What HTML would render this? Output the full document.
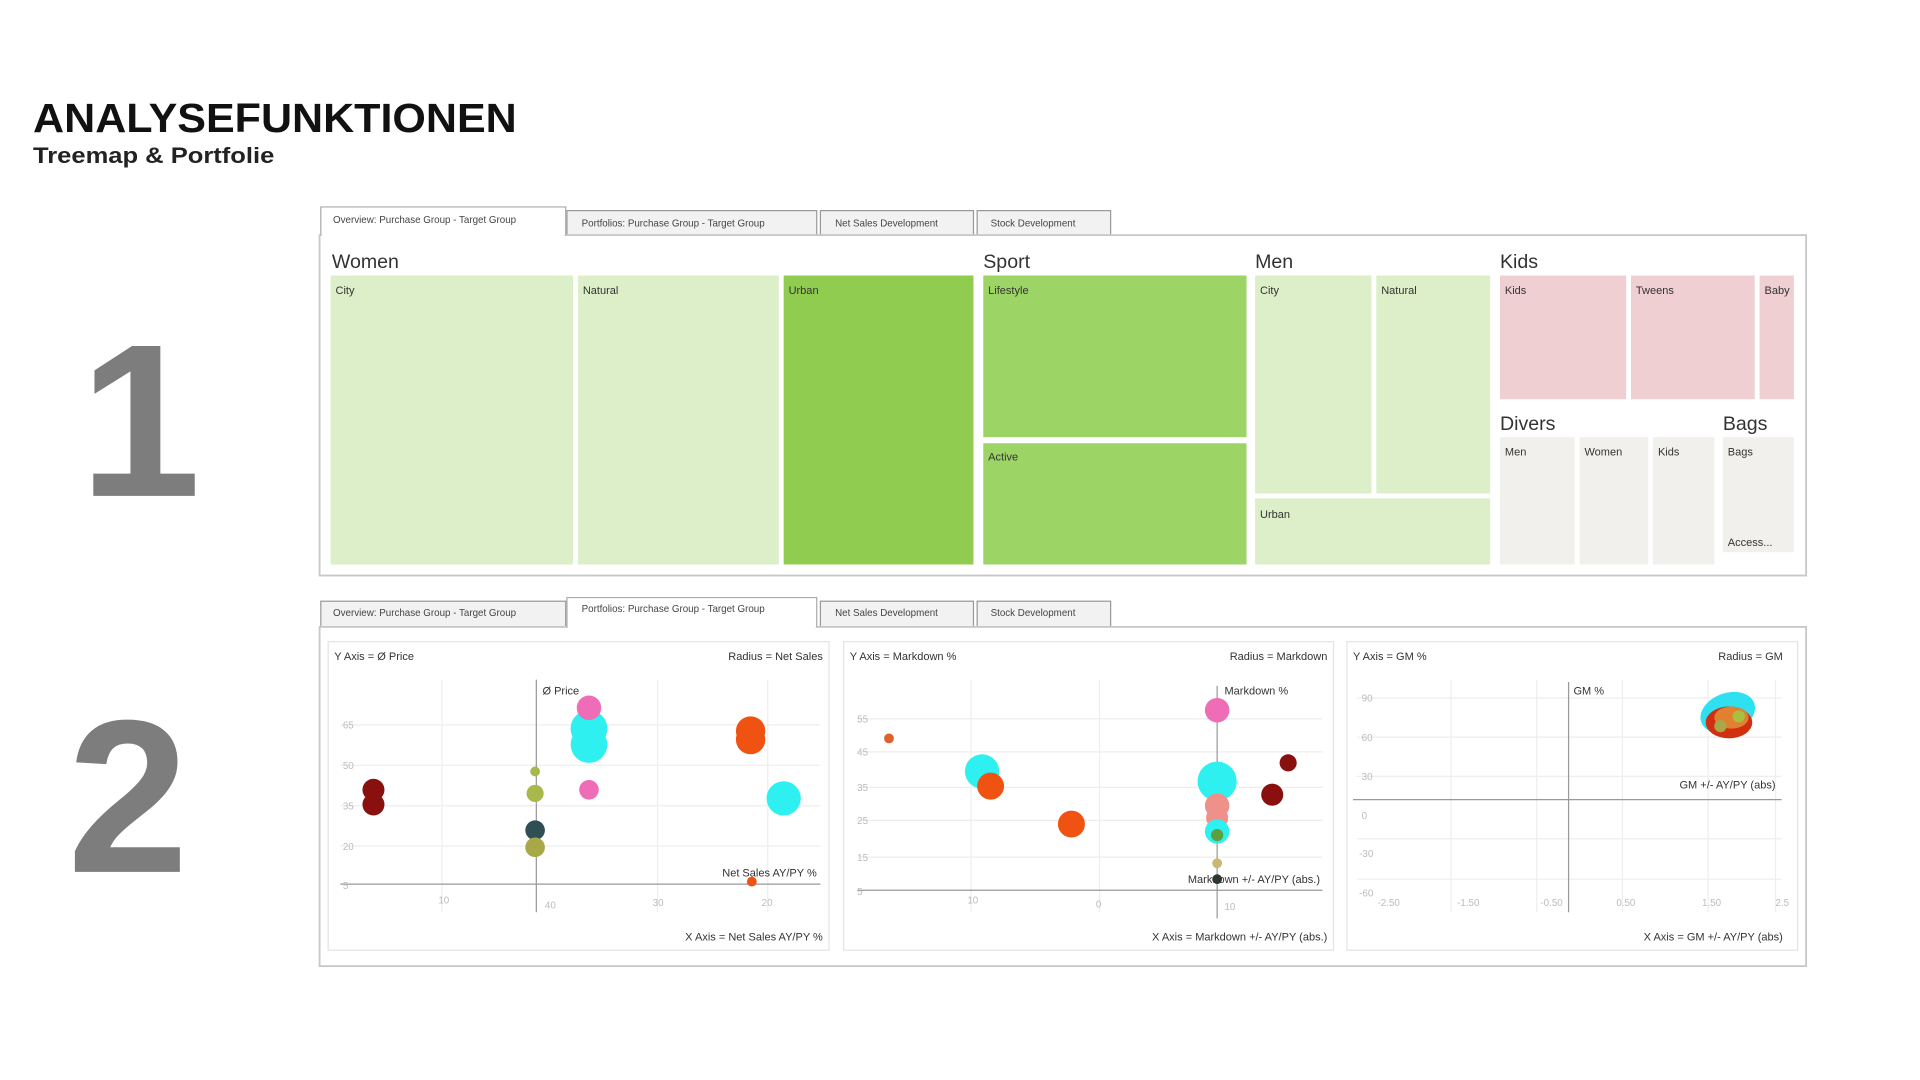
<!DOCTYPE html>
<html><head><meta charset="utf-8"><style>
html,body{margin:0;padding:0;background:#fff;width:1920px;height:1080px;overflow:hidden}
svg{display:block}
text{font-family:"Liberation Sans",sans-serif}
</style></head><body>
<svg width="1920" height="1080" viewBox="0 0 1568 882" xmlns="http://www.w3.org/2000/svg">
<rect width="1568" height="882" fill="#fff"/>
<text x="27" y="108" font-size="33" font-weight="bold" fill="#111" textLength="395" lengthAdjust="spacingAndGlyphs">ANALYSEFUNKTIONEN</text>
<text x="27" y="133" font-size="18" font-weight="bold" fill="#222" textLength="197" lengthAdjust="spacingAndGlyphs">Treemap &amp; Portfolie</text>
<text x="65" y="405" font-size="178" font-weight="bold" fill="#7d7d7d">1</text>
<text x="55" y="712" font-size="178" font-weight="bold" fill="#7d7d7d">2</text>

<!-- Panel 1 -->
<g font-size="8" fill="#444">
<rect x="463" y="172" width="204" height="20" fill="#f2f2f2" stroke="#999"/>
<rect x="670" y="172" width="125" height="20" fill="#f2f2f2" stroke="#999"/>
<rect x="798" y="172" width="109" height="20" fill="#f2f2f2" stroke="#999"/>
<rect x="261" y="192" width="1214" height="278" fill="#fff" stroke="#c8c8c8" stroke-width="1.5"/>
<path d="M262 192 V169 H462 V192" fill="#fff" stroke="#aaa"/>
<rect x="263" y="186" width="198" height="8" fill="#fff"/>
<text x="272" y="182">Overview: Purchase Group - Target Group</text>
<text x="475" y="185">Portfolios: Purchase Group - Target Group</text>
<text x="682" y="185">Net Sales Development</text>
<text x="809" y="185">Stock Development</text>
</g>
<g font-size="16" fill="#333">
<text x="271" y="219">Women</text><text x="803" y="219">Sport</text><text x="1025" y="219">Men</text>
<text x="1225" y="219">Kids</text><text x="1225" y="351">Divers</text><text x="1407" y="351">Bags</text>
</g>
<g>
<rect x="270" y="225" width="198" height="236" fill="#dcefc8"/>
<rect x="472" y="225" width="164" height="236" fill="#dcefc8"/>
<rect x="640" y="225" width="155" height="236" fill="#8fcc50"/>
<rect x="803" y="225" width="215" height="132" fill="#9dd466"/>
<rect x="803" y="362" width="215" height="99" fill="#9dd466"/>
<rect x="1025" y="225" width="95" height="178" fill="#dcefc8"/>
<rect x="1124" y="225" width="93" height="178" fill="#dcefc8"/>
<rect x="1025" y="407" width="192" height="54" fill="#dcefc8"/>
<rect x="1225" y="225" width="103" height="101" fill="#efcfd2"/>
<rect x="1332" y="225" width="101" height="101" fill="#efcfd2"/>
<rect x="1437" y="225" width="28" height="101" fill="#efcfd2"/>
<rect x="1225" y="357" width="61" height="104" fill="#f1f0ec"/>
<rect x="1290" y="357" width="56" height="104" fill="#f1f0ec"/>
<rect x="1350" y="357" width="50" height="104" fill="#f1f0ec"/>
<rect x="1407" y="357" width="58" height="94" fill="#f1f0ec"/>
</g>
<g font-size="9" fill="#333">
<text x="274" y="240">City</text><text x="476" y="240">Natural</text><text x="644" y="240">Urban</text>
<text x="807" y="240">Lifestyle</text><text x="807" y="376">Active</text>
<text x="1029" y="240">City</text><text x="1128" y="240">Natural</text><text x="1029" y="423">Urban</text>
<text x="1229" y="240">Kids</text><text x="1336" y="240">Tweens</text><text x="1441" y="240">Baby</text>
<text x="1229" y="372">Men</text><text x="1294" y="372">Women</text><text x="1354" y="372">Kids</text>
<text x="1411" y="372">Bags</text><text x="1411" y="446">Access...</text>
</g>

<!-- Panel 2 -->
<g font-size="8" fill="#444">
<rect x="262" y="491" width="200" height="21" fill="#f2f2f2" stroke="#999"/>
<rect x="670" y="491" width="125" height="21" fill="#f2f2f2" stroke="#999"/>
<rect x="798" y="491" width="109" height="21" fill="#f2f2f2" stroke="#999"/>
<rect x="261" y="512" width="1214" height="277" fill="#fff" stroke="#c8c8c8" stroke-width="1.5"/>
<path d="M463 512 V488 H667 V512" fill="#fff" stroke="#aaa"/>
<rect x="464" y="506" width="202" height="8" fill="#fff"/>
<text x="272" y="503">Overview: Purchase Group - Target Group</text>
<text x="475" y="500">Portfolios: Purchase Group - Target Group</text>
<text x="682" y="503">Net Sales Development</text>
<text x="809" y="503">Stock Development</text>
</g>
<g fill="none" stroke="#e4e4e4">
<rect x="268" y="524" width="409" height="252"/>
<rect x="689" y="524" width="400" height="252"/>
<rect x="1100" y="524" width="368" height="252"/>
</g>
<g font-size="9" fill="#333">
<text x="273" y="539">Y Axis = Ø Price</text><text x="672" y="539" text-anchor="end">Radius = Net Sales</text>
<text x="672" y="768" text-anchor="end">X Axis = Net Sales AY/PY %</text>
<text x="694" y="539">Y Axis = Markdown %</text><text x="1084" y="539" text-anchor="end">Radius = Markdown</text>
<text x="1084" y="768" text-anchor="end">X Axis = Markdown +/- AY/PY (abs.)</text>
<text x="1105" y="539">Y Axis = GM %</text><text x="1456" y="539" text-anchor="end">Radius = GM</text>
<text x="1456" y="768" text-anchor="end">X Axis = GM +/- AY/PY (abs)</text>
</g>
<!-- chart1 -->
<g stroke="#eee">
<line x1="278" y1="592" x2="670" y2="592"/><line x1="278" y1="625" x2="670" y2="625"/><line x1="278" y1="658" x2="670" y2="658"/><line x1="278" y1="691" x2="670" y2="691"/>
<line x1="361" y1="555" x2="361" y2="745"/><line x1="537" y1="555" x2="537" y2="745"/><line x1="627" y1="555" x2="627" y2="745"/>
</g>
<line x1="438" y1="555" x2="438" y2="745" stroke="#999"/><line x1="278" y1="722" x2="670" y2="722" stroke="#999"/>
<g font-size="8" fill="#bbb"><text x="280" y="595">65</text><text x="280" y="628">50</text><text x="280" y="661">35</text><text x="280" y="694">20</text><text x="280" y="726">5</text>
<text x="358" y="738">10</text><text x="445" y="742">40</text><text x="533" y="740">30</text><text x="622" y="740">20</text></g>
<g>
<circle cx="305" cy="645" r="9" fill="#8a1010"/><circle cx="305" cy="657" r="9" fill="#8a1010"/>
<circle cx="437" cy="630" r="4" fill="#a8b84a"/><circle cx="437" cy="648" r="7" fill="#a8b84a"/>
<circle cx="437" cy="678" r="8" fill="#2f4f55"/><circle cx="437" cy="692" r="8" fill="#a8a848"/>
<circle cx="481" cy="595" r="15" fill="#2ef0f0"/><circle cx="481" cy="608" r="15" fill="#2ef0f0"/>
<circle cx="481" cy="578" r="10" fill="#ef6cb6"/><circle cx="481" cy="645" r="8" fill="#ef6cb6"/>
<circle cx="613" cy="597" r="12" fill="#f05212"/><circle cx="613" cy="604" r="12" fill="#f05212"/>
<circle cx="640" cy="652" r="14" fill="#2ef0f0"/><circle cx="614" cy="720" r="4" fill="#f05212"/>
</g>
<g font-size="9" fill="#333"><text x="443" y="567">Ø Price</text><text x="667" y="716" text-anchor="end">Net Sales AY/PY %</text></g>
<!-- chart2 -->
<g stroke="#eee">
<line x1="700" y1="587" x2="1080" y2="587"/><line x1="700" y1="614" x2="1080" y2="614"/><line x1="700" y1="643" x2="1080" y2="643"/><line x1="700" y1="670" x2="1080" y2="670"/><line x1="700" y1="700" x2="1080" y2="700"/>
<line x1="793" y1="555" x2="793" y2="745"/><line x1="898" y1="555" x2="898" y2="745"/>
</g>
<line x1="994" y1="560" x2="994" y2="750" stroke="#999"/><line x1="700" y1="727" x2="1080" y2="727" stroke="#999"/>
<g font-size="8" fill="#bbb"><text x="700" y="590">55</text><text x="700" y="617">45</text><text x="700" y="646">35</text><text x="700" y="673">25</text><text x="700" y="703">15</text><text x="700" y="731">5</text>
<text x="790" y="738">10</text><text x="895" y="741">0</text><text x="1000" y="743">10</text></g>
<g>
<circle cx="726" cy="603" r="4" fill="#e0602a"/>
<circle cx="802" cy="630" r="14" fill="#2ef0f0"/><circle cx="809" cy="642" r="11" fill="#f05212"/>
<circle cx="875" cy="673" r="11" fill="#f05212"/>
<circle cx="994" cy="580" r="10" fill="#ef6cb6"/>
<circle cx="994" cy="638" r="16" fill="#2ef0f0"/>
<circle cx="994" cy="658" r="10" fill="#f0908a"/><circle cx="994" cy="668" r="9" fill="#f0908a"/>
<circle cx="994" cy="679" r="10" fill="#2ef0f0"/><circle cx="994" cy="682" r="5" fill="#5ca040"/>
<circle cx="994" cy="705" r="4" fill="#c8b870"/><circle cx="994" cy="718" r="4" fill="#2a3a30"/>
<circle cx="1039" cy="649" r="9" fill="#8a1010"/><circle cx="1052" cy="623" r="7" fill="#8a1010"/>
</g>
<g font-size="9" fill="#333"><text x="1000" y="567">Markdown %</text><text x="1078" y="721" text-anchor="end">Markdown +/- AY/PY (abs.)</text></g>
<!-- chart3 -->
<g stroke="#eee">
<line x1="1108" y1="570" x2="1455" y2="570"/><line x1="1108" y1="602" x2="1455" y2="602"/><line x1="1108" y1="634" x2="1455" y2="634"/><line x1="1108" y1="685" x2="1455" y2="685"/><line x1="1108" y1="718" x2="1455" y2="718"/>
<line x1="1185" y1="555" x2="1185" y2="745"/><line x1="1255" y1="555" x2="1255" y2="745"/><line x1="1325" y1="555" x2="1325" y2="745"/><line x1="1395" y1="555" x2="1395" y2="745"/><line x1="1450" y1="555" x2="1450" y2="745"/>
</g>
<line x1="1281" y1="557" x2="1281" y2="745" stroke="#999"/><line x1="1105" y1="653" x2="1455" y2="653" stroke="#999"/>
<g font-size="8" fill="#bbb"><text x="1112" y="573">90</text><text x="1112" y="605">60</text><text x="1112" y="637">30</text><text x="1112" y="669">0</text><text x="1110" y="700">-30</text><text x="1110" y="732">-60</text>
<text x="1125" y="740">-2.50</text><text x="1190" y="740">-1.50</text><text x="1258" y="740">-0.50</text><text x="1320" y="740">0.50</text><text x="1390" y="740">1.50</text><text x="1450" y="740">2.5</text></g>
<g>
<ellipse cx="1411" cy="582" rx="23" ry="16" fill="#2ee0f0" transform="rotate(-20 1411 582)"/>
<ellipse cx="1412" cy="590" rx="19" ry="13" fill="#d03010"/>
<ellipse cx="1414" cy="586" rx="14" ry="9" fill="#e08030"/>
<circle cx="1420" cy="585" r="5" fill="#a8c040"/><circle cx="1405" cy="593" r="5" fill="#a8a848"/>
</g>
<g font-size="9" fill="#333"><text x="1285" y="567">GM %</text><text x="1450" y="644" text-anchor="end">GM +/- AY/PY (abs)</text></g>
</svg>
</body></html>
